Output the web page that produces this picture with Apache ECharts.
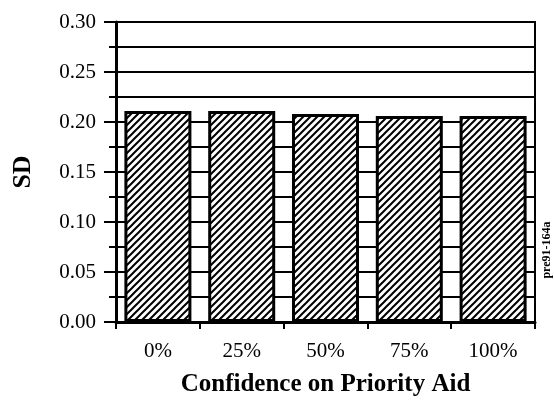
<!DOCTYPE html>
<html>
<head>
<meta charset="utf-8">
<script src="https://cdn.jsdelivr.net/npm/echarts@6/dist/echarts.min.js"></script>
<style>
  html, body { margin: 0; padding: 0; background: #fff; }
  #chart { width: 554px; height: 400px; }
</style>
</head>
<body>
<div id="chart"></div>
<script>
// Standard deviation by confidence level on the priority aid
const categories = ['0%', '25%', '50%', '75%', '100%'];
const sdValues = [0.211, 0.211, 0.208, 0.206, 0.206];
const yTicks = { min: 0, max: 0.30, step: 0.05 };

// Diagonal "/" hatch tile for bar fills
function hatchTile(size, width) {
  const c = document.createElement('canvas');
  c.width = size; c.height = size;
  const g = c.getContext('2d');
  g.fillStyle = '#fff';
  g.fillRect(0, 0, size, size);
  g.strokeStyle = '#000';
  g.lineWidth = width;
  g.beginPath();
  g.moveTo(-1, size + 1); g.lineTo(size + 1, -1);
  g.moveTo(-2, 2); g.lineTo(2, -2);
  g.moveTo(size - 2, size + 2); g.lineTo(size + 2, size - 2);
  g.stroke();
  return c;
}

const chart = echarts.init(document.getElementById('chart'), null, { renderer: 'canvas' });
const serif = '"Liberation Serif", "DejaVu Serif", serif';

chart.setOption({
  animation: false,
  backgroundColor: '#fff',
  grid: {
    left: 116, right: 19, top: 22, bottom: 78,
    containLabel: false,
    outerBoundsMode: 'none',
    show: true, borderColor: '#000', borderWidth: 2
  },
  xAxis: {
    type: 'category',
    data: categories,
    boundaryGap: true,
    name: 'Confidence on Priority Aid',
    nameLocation: 'middle',
    nameGap: 50,
    nameTextStyle: { fontFamily: serif, fontWeight: 'bold', fontSize: 25, color: '#000' },
    axisLine: { lineStyle: { color: '#000', width: 3 } },
    axisTick: { show: true, alignWithLabel: false, length: 7, lineStyle: { color: '#000', width: 2 } },
    axisLabel: { fontFamily: serif, fontSize: 21, color: '#000', margin: 19 },
    splitLine: { show: false }
  },
  yAxis: {
    type: 'value',
    min: yTicks.min,
    max: yTicks.max,
    interval: yTicks.step,
    name: 'SD',
    nameLocation: 'middle',
    nameGap: 80,
    nameRotate: 90,
    nameTextStyle: { fontFamily: serif, fontWeight: 'bold', fontSize: 26, color: '#000' },
    axisLine: { show: true, lineStyle: { color: '#000', width: 3 } },
    axisTick: { show: true, length: 12, lineStyle: { color: '#000', width: 2 } },
    minorTick: { show: true, splitNumber: 2, length: 7, lineStyle: { color: '#000', width: 2 } },
    axisLabel: {
      fontFamily: serif, fontSize: 21, color: '#000', margin: 20,
      formatter: v => v.toFixed(2)
    },
    splitLine: { show: true, lineStyle: { color: '#000', width: 2 } },
    minorSplitLine: { show: true, lineStyle: { color: '#000', width: 2 } }
  },
  series: [{
    type: 'bar',
    data: sdValues,
    barWidth: 67,
    itemStyle: {
      color: { image: hatchTile(7, 2), repeat: 'repeat' },
      borderColor: '#000',
      borderWidth: 3
    }
  }],
  graphic: [{
    type: 'text',
    x: 547,
    y: 250,
    rotation: Math.PI / 2,
    style: {
      text: 'pre91-164a',
      fontFamily: serif,
      fontWeight: 'bold',
      fontSize: 12,
      fill: '#000',
      align: 'center',
      verticalAlign: 'middle'
    }
  }]
});
</script>
</body>
</html>
